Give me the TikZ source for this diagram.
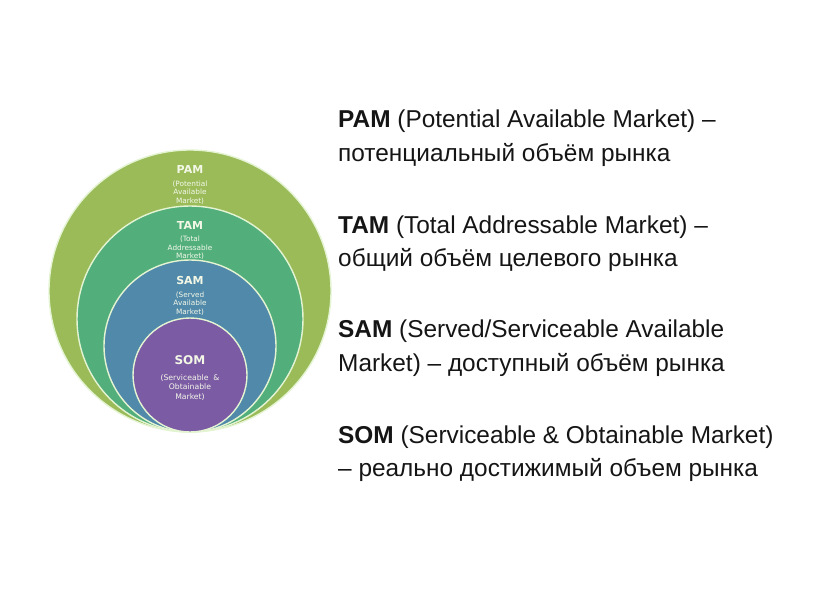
\documentclass[tikz,border=0pt]{standalone}
\usepackage{fontspec}
\setmainfont{Liberation Sans}
\newfontfamily\labfont{DejaVu Sans}
\definecolor{pamc}{HTML}{9BBB59}
\definecolor{tamc}{HTML}{52AF7C}
\definecolor{samc}{HTML}{5089A9}
\definecolor{somc}{HTML}{7C5BA5}
\definecolor{rimc}{HTML}{E4F4D2}
\definecolor{txtc}{HTML}{151515}
\definecolor{labc}{HTML}{F2F7E6}
\tikzset{
  ring/.style={circle, draw=rimc, line width=1.4pt, inner sep=0pt},
  bigl/.style={font=\labfont\bfseries\fontsize{11}{12}\selectfont, text=labc, inner sep=0pt},
  smalll/.style={font=\labfont\fontsize{7.3}{8.7}\selectfont, text=labc!90, align=center, inner sep=0pt},
  desc/.style={font=\fontsize{24.4}{28}\selectfont, text=txtc, anchor=base west, inner sep=0pt}
}
\begin{document}
\begin{tikzpicture}[x=1pt,y=-1pt]
\useasboundingbox (0,0) rectangle (814,611);
\node[ring, fill=pamc, minimum size=282pt] (pam) at (190,291) {};
\node[ring, fill=tamc, minimum size=226pt] (tam) at (190,319) {};
\node[ring, fill=samc, minimum size=172pt] (sam) at (190,346) {};
\node[ring, fill=somc, minimum size=114pt] (som) at (190,375) {};

\node[bigl] (pamt) at (190,169) {PAM};
\node[smalll] (pams) at (190,192.5) {(Potential\\Available\\Market)};
\node[bigl] (tamt) at (190,225) {TAM};
\node[smalll] (tams) at (190,248) {(Total\\Addressable\\Market)};
\node[bigl] (samt) at (190,280) {SAM};
\node[smalll] (sams) at (190,303.5) {(Served\\Available\\Market)};
\node[bigl, font=\labfont\bfseries\fontsize{12}{13}\selectfont] (somt) at (190,360) {SOM};
\node[smalll, font=\labfont\fontsize{7.7}{9.4}\selectfont] (soms) at (190,387.5) {(Serviceable\ \ \&\\Obtainable\\Market)};

\node[desc] (d1) at (338,127) {\textbf{PAM} (Potential Available Market) –};
\node[desc] (d2) at (338,161) {потенциальный объём рынка};
\node[desc] (d3) at (338,233) {\textbf{TAM} (Total Addressable Market) –};
\node[desc] (d4) at (338,266) {общий объём целевого рынка};
\node[desc] (d5) at (338,337) {\textbf{SAM} (Served/Serviceable Available};
\node[desc] (d6) at (338,371) {Market) – доступный объём рынка};
\node[desc] (d7) at (338,443) {\textbf{SOM} (Serviceable \& Obtainable Market)};
\node[desc] (d8) at (338,476) {– реально достижимый объем рынка};
\end{tikzpicture}
\end{document}
